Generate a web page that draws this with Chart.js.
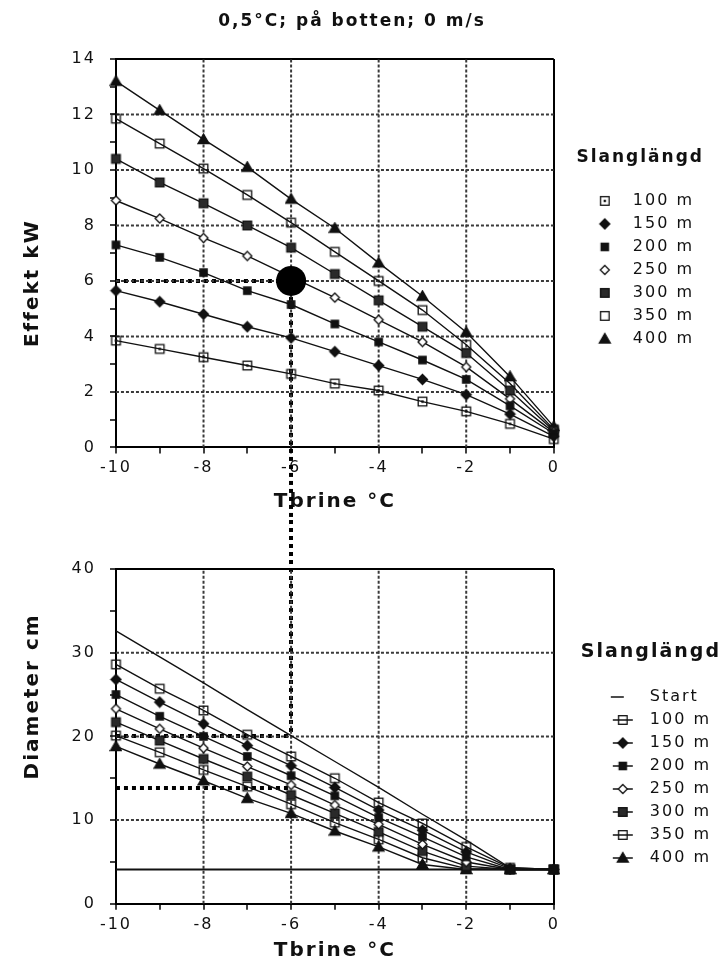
<!DOCTYPE html>
<html lang="sv">
<head>
<meta charset="utf-8">
<title>0,5°C; på botten; 0 m/s</title>
<script src="https://cdn.jsdelivr.net/npm/chart.js@4.4.1/dist/chart.umd.min.js"></script>
<style>
  html, body { margin: 0; padding: 0; background: #fff; }
  canvas { display: block; }
</style>
</head>
<body>
<canvas id="chartEffekt" width="724" height="520"></canvas>
<canvas id="chartDiameter" width="724" height="443"></canvas>
<script>
/* ================================================================
   DATA
   ================================================================ */
const tbrine = [-10, -9, -8, -7, -6, -5, -4, -3, -2, -1, 0];
const slangLangd = ['100 m', '150 m', '200 m', '250 m', '300 m', '350 m', '400 m'];

const tbrineLabels  = [-10, -8, -6, -4, -2, 0];
const effektLabels  = [0, 2, 4, 6, 8, 10, 12, 14];
const diamLabels    = [0, 10, 20, 30, 40];

/* Effekt kW */
const effekt100 = [3.85, 3.55, 3.25, 2.95, 2.65, 2.3, 2.05, 1.65, 1.3, 0.85, 0.3];
const effekt150 = [5.65, 5.25, 4.8, 4.35, 3.95, 3.45, 2.95, 2.45, 1.9, 1.2, 0.4];
const effekt200 = [7.3, 6.85, 6.3, 5.65, 5.15, 4.45, 3.8, 3.15, 2.45, 1.5, 0.5];
const effekt250 = [8.9, 8.25, 7.55, 6.9, 6.15, 5.4, 4.6, 3.8, 2.9, 1.75, 0.55];
const effekt300 = [10.4, 9.55, 8.8, 8.0, 7.2, 6.25, 5.3, 4.35, 3.4, 2.05, 0.6];
const effekt350 = [11.85, 10.95, 10.05, 9.1, 8.1, 7.05, 6.0, 4.95, 3.7, 2.3, 0.65];
const effekt400 = [13.2, 12.15, 11.1, 10.1, 8.95, 7.9, 6.65, 5.45, 4.15, 2.55, 0.75];

/* Diameter cm */
const diamSlang = [4.1, 4.1, 4.1, 4.1, 4.1, 4.1, 4.1, 4.1, 4.1, 4.1, 4.1];
const diamStart = [32.6, 29.5, 26.4, 23.2, 20.1, 17.0, 13.9, 10.7, 7.6, 4.3, 4.1];
const diam100 = [28.6, 25.7, 23.1, 20.2, 17.6, 15.0, 12.1, 9.6, 6.8, 4.3, 4.1];
const diam150 = [26.8, 24.1, 21.5, 18.9, 16.5, 13.9, 11.2, 8.8, 6.2, 4.2, 4.1];
const diam200 = [25.0, 22.4, 20.0, 17.6, 15.3, 12.9, 10.3, 8.0, 5.6, 4.1, 4.1];
const diam250 = [23.3, 20.9, 18.6, 16.4, 14.2, 11.8, 9.5, 7.1, 5.0, 4.1, 4.1];
const diam300 = [21.7, 19.5, 17.3, 15.2, 13.0, 10.8, 8.6, 6.3, 4.5, 4.1, 4.1];
const diam350 = [20.1, 18.1, 16.0, 14.0, 11.9, 9.7, 7.7, 5.5, 4.2, 4.1, 4.1];
const diam400 = [18.8, 16.7, 14.7, 12.6, 10.8, 8.7, 6.8, 4.7, 4.1, 4.1, 4.1];

/* Avläsningsexempel (tjocka prickade linjer) */
const valdTbrine    = -6;
const valdEffekt    = [6];
const valdDiameter  = [20.1, 13.8];

const effektSerier = [effekt100, effekt150, effekt200, effekt250, effekt300, effekt350, effekt400];
const diamSerier   = [diam100, diam150, diam200, diam250, diam300, diam350, diam400];

/* ── STYLE ───────────────────────────────────────────────── */
const INK = '#111';
const markEffekt = ['sqDot', 'diamond', 'square', 'diamondOpen', 'squareDark', 'sqOpen', 'triangle'];
const markDiam   = ['sqOpen', 'diamond', 'square', 'diamondOpen', 'squareDark', 'sqOpen', 'triangle'];

Chart.defaults.font.family = "'DejaVu Sans', sans-serif";
Chart.defaults.font.size   = 16;
Chart.defaults.color       = INK;

/* ================================================================
   MARKERS
   ================================================================ */
function makeMarker(kind, w = 13, h = 13, cx = 6.5, line = 0) {
  const c = document.createElement('canvas');
  c.width = w; c.height = h;
  const g = c.getContext('2d');
  const cy = h / 2;
  g.strokeStyle = INK;
  g.fillStyle   = INK;
  if (line) {
    g.lineWidth = 1.5;
    g.beginPath(); g.moveTo(cx - line, cy); g.lineTo(cx + line, cy); g.stroke();
  }
  g.lineWidth = 1.3;
  const r = 4.3;
  const poly = (pts, fill) => {
    g.beginPath();
    pts.forEach(([px, py], i) => i ? g.lineTo(px, py) : g.moveTo(px, py));
    g.closePath();
    if (fill) { g.fillStyle = fill; g.fill(); }
    g.stroke();
  };
  switch (kind) {
    case 'square':     g.fillRect(cx - r, cy - r, 2 * r, 2 * r); break;
    case 'squareDark':
      g.fillStyle = '#2a2a2a'; g.fillRect(cx - r, cy - r, 2 * r, 2 * r);
      g.strokeRect(cx - r, cy - r, 2 * r, 2 * r); break;
    case 'sqOpen':     g.strokeRect(cx - r, cy - r, 2 * r, 2 * r); break;
    case 'sqDot':
      g.strokeRect(cx - r, cy - r, 2 * r, 2 * r);
      g.fillRect(cx - 1.2, cy - 1.2, 2.4, 2.4); break;
    case 'diamond':     poly([[cx, cy - 5], [cx + 5, cy], [cx, cy + 5], [cx - 5, cy]], INK); break;
    case 'diamondOpen': poly([[cx, cy - 4.5], [cx + 4.5, cy], [cx, cy + 4.5], [cx - 4.5, cy]], '#fff'); break;
    case 'triangle':    poly([[cx, cy - 5.5], [cx + 5.5, cy + 4], [cx - 5.5, cy + 4]], INK); break;
  }
  return c;
}

/* ================================================================
   PLUGINS
   ================================================================ */
/* Bred teckenbredd som i originalet */
const spacing = {
  id: 'spacing',
  beforeUpdate(chart) { chart.ctx.letterSpacing = '2px'; },
  beforeDraw(chart)   { chart.ctx.letterSpacing = '2px'; }
};

/* Y-axelns rubrik, förskjuten längs axeln som i originalet */
const yTitle = {
  id: 'yTitle',
  afterDraw(chart, args, opts) {
    const { ctx, chartArea: a } = chart;
    const y = chart.scales.y;
    const t = y.options.title;
    ctx.save();
    ctx.translate(y.left + 12 + 21, (a.top + a.bottom) / 2 + opts.shift);
    ctx.rotate(-Math.PI / 2);
    ctx.font = "bold 20px 'DejaVu Sans', sans-serif";
    ctx.fillStyle = INK;
    ctx.textAlign = 'center';
    ctx.textBaseline = 'middle';
    ctx.fillText(t.text, 0, 0);
    ctx.restore();
  }
};

/* Tjocka prickade avläsningslinjer, lodlinjen löper vidare mellan diagrammen */
const guides = {
  id: 'guides',
  beforeDatasetsDraw(chart, args, opts) {
    const { ctx, scales: { x, y } } = chart;
    const gx = Math.round(x.getPixelForValue(opts.tbrine));
    const x0 = x.getPixelForValue(x.min);
    ctx.save();
    ctx.strokeStyle = '#000';
    ctx.lineWidth = 4;
    ctx.setLineDash([4, 4]);
    opts.values.forEach(v => {
      const py = Math.round(y.getPixelForValue(v));
      ctx.beginPath(); ctx.moveTo(x0, py); ctx.lineTo(gx, py); ctx.stroke();
    });
    const top = Math.min(...opts.values.map(v => y.getPixelForValue(v)));
    ctx.beginPath();
    if (opts.edge === 'bottom') {
      ctx.moveTo(gx, top); ctx.lineTo(gx, chart.height);
    } else {
      ctx.moveTo(gx, 0); ctx.lineTo(gx, top);
    }
    ctx.stroke();
    ctx.restore();
  }
};

/* ================================================================
   HELPERS
   ================================================================ */
function serie(label, values, kind, icon) {
  return {
    label,
    data: tbrine.map((t, i) => ({ x: t, y: values[i] })),
    borderColor: INK,
    borderWidth: 1.4,
    pointStyle: kind ? makeMarker(kind) : false,
    pointRadius: kind ? 5 : 0,
    tension: 0,
    clip: false,
    order: 1,
    icon
  };
}

/* Prickat rutnät vid de numrerade värdena, ritat som linjer */
function gridLine(data) {
  return {
    label: '',
    data,
    borderColor: '#3a3a3a',
    borderWidth: 2,
    borderDash: [3, 2],
    pointRadius: 0,
    tension: 0,
    order: 5
  };
}

function gridSets(yLabels) {
  const x0 = tbrine[0], x1 = tbrine[tbrine.length - 1];
  const y0 = yLabels[0], y1 = yLabels[yLabels.length - 1];
  return tbrineLabels.slice(1, -1).map(v => gridLine([{ x: v, y: y0 }, { x: v, y: y1 }]))
    .concat(yLabels.slice(1, -1).map(v => gridLine([{ x: x0, y: v }, { x: x1, y: v }])));
}

function gridAxis(min, max, step, labels, title, titlePad, tickPad, titleColor = INK) {
  return {
    type: 'linear',
    min, max,
    ticks: {
      stepSize: step,
      padding: tickPad,
      autoSkip: false,
      maxRotation: 0,
      font: { size: 16 },
      callback: v => labels.includes(v) ? String(v) : ''
    },
    grid: {
      color: ctx => ctx.tick && ctx.tick.value === max ? '#000' : 'rgba(0,0,0,0)',
      lineWidth: 2,
      tickLength: 6,
      tickWidth: 1.5,
      tickColor: '#000'
    },
    border: { color: '#000', width: 2 },
    title: { display: true, text: title, color: titleColor, font: { size: 20, weight: 'bold' }, padding: titlePad }
  };
}

function legendOpts(iconWidth, titleSize, titlePad) {
  return {
    position: 'right',
    align: 'start',
    title: {
      display: true, text: 'Slanglängd', position: 'end',
      font: { size: titleSize, weight: 'bold' }, padding: titlePad
    },
    labels: {
      usePointStyle: true,
      pointStyleWidth: iconWidth,
      padding: 7,
      font: { size: 16 },
      color: INK,
      generateLabels(chart) {
        const items = Chart.defaults.plugins.legend.labels.generateLabels(chart);
        return items
          .filter(it => chart.data.datasets[it.datasetIndex].icon)
          .map(it => Object.assign(it, { pointStyle: chart.data.datasets[it.datasetIndex].icon }));
      }
    }
  };
}

/* ================================================================
   EFFEKT
   ================================================================ */
const effektDatasets = [{
  label: 'vald punkt',
  data: [{ x: valdTbrine, y: valdEffekt[0] }],
  showLine: false,
  pointStyle: 'circle',
  pointRadius: 15,
  pointBackgroundColor: '#000',
  pointBorderWidth: 0,
  clip: false,
  order: 0
}].concat(effektSerier.map((v, i) =>
  serie(slangLangd[i], v, markEffekt[i], makeMarker(markEffekt[i], 64, 16, 44))))
  .concat(gridSets(effektLabels));

new Chart(document.getElementById('chartEffekt'), {
  type: 'line',
  data: { datasets: effektDatasets },
  plugins: [spacing, guides, yTitle],
  options: {
    responsive: false,
    animation: false,
    events: [],
    layout: { padding: { top: 0, right: 20, bottom: 0, left: 0 } },
    scales: {
      x: gridAxis(-10, 0, 1, tbrineLabels, 'Tbrine °C', { top: 7.4, bottom: 6 }, 5),
      y: gridAxis(0, 14, 1, effektLabels, 'Effekt kW', { top: 21, bottom: 12.6 }, 14, 'rgba(0,0,0,0)')
    },
    plugins: {
      title: {
        display: true,
        text: '0,5°C; på botten; 0 m/s',
        font: { size: 17, weight: 'bold' },
        color: INK,
        padding: { top: 11.8, bottom: 26.8 }
      },
      legend: legendOpts(64, 17, { top: 149.5, bottom: 16 }),
      tooltip: { enabled: false },
      guides: { tbrine: valdTbrine, values: valdEffekt, edge: 'bottom' },
      yTitle: { shift: 30 }
    }
  }
});

/* ================================================================
   DIAMETER
   ================================================================ */
const diamDatasets = [
  Object.assign(serie('Slang', diamSlang, null, null), { borderWidth: 2, order: 2 }),
  serie('Start', diamStart, null, makeMarker(null, 81, 16, 56.5, 6.5))
].concat(diamSerier.map((v, i) =>
  serie(slangLangd[i], v, markDiam[i], makeMarker(markDiam[i], 81, 16, 62, 10))))
  .concat(gridSets(diamLabels));

new Chart(document.getElementById('chartDiameter'), {
  type: 'line',
  data: { datasets: diamDatasets },
  plugins: [spacing, guides, yTitle],
  options: {
    responsive: false,
    animation: false,
    events: [],
    layout: { padding: { top: 49, right: 3, bottom: 0, left: 0 } },
    scales: {
      x: gridAxis(-10, 0, 1, tbrineLabels, 'Tbrine °C', { top: 0, bottom: 0 }, 5),
      y: gridAxis(0, 40, 5, diamLabels, 'Diameter cm', { top: 21, bottom: 12.6 }, 14, 'rgba(0,0,0,0)')
    },
    plugins: {
      legend: legendOpts(81, 19, { top: 73.5, bottom: 16.7 }),
      tooltip: { enabled: false },
      guides: { tbrine: valdTbrine, values: valdDiameter, edge: 'top' },
      yTitle: { shift: -40 }
    }
  }
});
</script>
</body>
</html>
